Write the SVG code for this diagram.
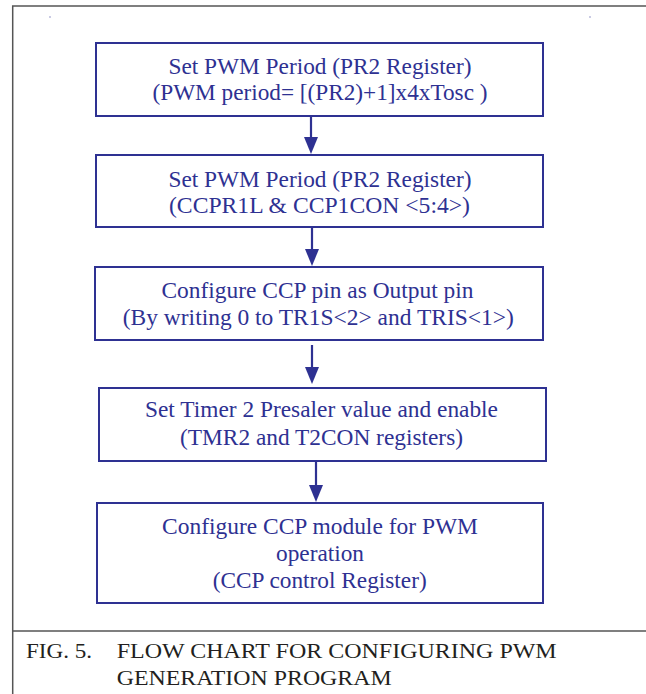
<svg xmlns="http://www.w3.org/2000/svg" width="646" height="694" viewBox="0 0 646 694">
<style>
.box{fill:#fff;stroke:#2e3192;stroke-width:2}
.t{font-family:"Liberation Serif","Times New Roman",serif;font-size:23px;fill:#2e3192;text-anchor:middle}
.cap{font-family:"Liberation Serif","Times New Roman",serif;font-size:22px;fill:#231f20}
.frame{stroke:#555;stroke-width:1.5;fill:none}
.conn line{stroke:#2e3192;stroke-width:2.2}
.conn polygon{fill:#2e3192}
</style>
<rect width="646" height="694" fill="#fff"/>
<g id="frame">
<path class="frame" d="M12.7,694 V6 H646"/>
<line class="frame" x1="12.7" y1="631" x2="646" y2="631"/>
<rect x="49.5" y="16.5" width="1" height="1" fill="#2e3192"/>
<rect x="589.5" y="16.5" width="1" height="1" fill="#2e3192"/>
</g>
<g id="n1">
<rect class="box" x="96" y="43" width="447" height="73"/>
<text class="t" x="320" y="74" textLength="303" lengthAdjust="spacingAndGlyphs">Set PWM Period (PR2 Register)</text>
<text class="t" x="320" y="100" textLength="335" lengthAdjust="spacingAndGlyphs">(PWM period= [(PR2)+1]x4xTosc )</text>
</g>
<g id="n2">
<rect class="box" x="96" y="155" width="447" height="72"/>
<text class="t" x="320" y="187" textLength="303" lengthAdjust="spacingAndGlyphs">Set PWM Period (PR2 Register)</text>
<text class="t" x="319.5" y="213" textLength="301" lengthAdjust="spacingAndGlyphs">(CCPR1L &amp; CCP1CON &lt;5:4&gt;)</text>
</g>
<g id="n3">
<rect class="box" x="95" y="267" width="448" height="73"/>
<text class="t" x="317.5" y="298" textLength="312" lengthAdjust="spacingAndGlyphs">Configure CCP pin as Output pin</text>
<text class="t" x="318.3" y="325" textLength="391" lengthAdjust="spacingAndGlyphs">(By writing 0 to TR1S&lt;2&gt; and TRIS&lt;1&gt;)</text>
</g>
<g id="n4">
<rect class="box" x="99" y="388" width="447" height="73"/>
<text class="t" x="321.5" y="417" textLength="353" lengthAdjust="spacingAndGlyphs">Set Timer 2 Presaler value and enable</text>
<text class="t" x="321.5" y="445" textLength="283" lengthAdjust="spacingAndGlyphs">(TMR2 and T2CON registers)</text>
</g>
<g id="n5">
<rect class="box" x="97" y="503" width="446" height="100"/>
<text class="t" x="320" y="534" textLength="316" lengthAdjust="spacingAndGlyphs">Configure CCP module for PWM</text>
<text class="t" x="320" y="561" textLength="88" lengthAdjust="spacingAndGlyphs">operation</text>
<text class="t" x="319.7" y="588" textLength="214" lengthAdjust="spacingAndGlyphs">(CCP control Register)</text>
</g>
<g id="connectors" class="conn">
<line x1="311" y1="116" x2="311" y2="142"/>
<polygon points="304,137 318,137 311,154"/>
<line x1="312" y1="227" x2="312" y2="254"/>
<polygon points="305,249 319,249 312,266"/>
<line x1="312" y1="345" x2="312" y2="372"/>
<polygon points="305,367 319,367 312,384"/>
<line x1="316" y1="461" x2="316" y2="490"/>
<polygon points="309,485 323,485 316,502"/>
</g>
<g id="caption">
<text class="cap" x="26" y="658" textLength="66" lengthAdjust="spacingAndGlyphs">FIG. 5.</text>
<text class="cap" x="116.7" y="658" textLength="440" lengthAdjust="spacingAndGlyphs">FLOW CHART FOR CONFIGURING PWM</text>
<text class="cap" x="116.7" y="685" textLength="275" lengthAdjust="spacingAndGlyphs">GENERATION PROGRAM</text>
</g>
</svg>
